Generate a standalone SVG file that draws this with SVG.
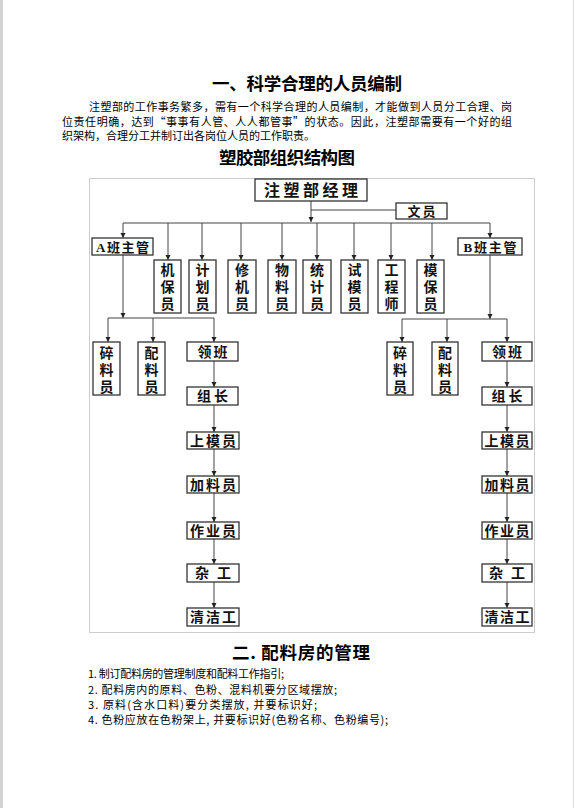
<svg xmlns="http://www.w3.org/2000/svg" width="575" height="808" viewBox="0 0 575 808">
<style>
.t{font-family:"Noto Sans CJK SC","Noto Sans",sans-serif;fill:#000}
.h{font-size:17.5px;font-weight:700}
.p{font-size:11px}
.c{font-family:"Liberation Serif","Noto Sans CJK SC",serif;font-weight:700;fill:#111;text-anchor:middle}
.b{fill:#fff;stroke:#333;stroke-width:1.3}
.ln{stroke:#444;stroke-width:1;fill:none}
</style>
<defs>
<marker id="ah" markerUnits="userSpaceOnUse" markerWidth="6" markerHeight="6" refX="5" refY="3" orient="auto">
<path d="M0,0.5 L5,3 L0,5.5 z" fill="#222"/>
</marker>
</defs>
<rect width="575" height="808" fill="#fff"/>
<rect x="0" y="0" width="3" height="808" fill="#d4d4d4"/>
<line x1="573.5" y1="0" x2="573.5" y2="808" stroke="#e0e0e0"/>

<text class="t h" x="307" y="89.5" text-anchor="middle" textLength="190">一、科学合理的人员编制</text>
<text class="t p" x="89" y="111" textLength="423">注塑部的工作事务繁多，需有一个科学合理的人员编制，才能做到人员分工合理、岗</text>
<text class="t p" x="62" y="125.5" textLength="450">位责任明确，达到“事事有人管、人人都管事”的状态。因此，注塑部需要有一个好的组</text>
<text class="t p" x="62" y="140">织架构，合理分工并制订出各岗位人员的工作职责。</text>
<text class="t h" x="287" y="164" text-anchor="middle" textLength="136">塑胶部组织结构图</text>

<rect x="89.5" y="178.5" width="445" height="454" fill="none" stroke="#ccc"/>

<g id="connectors">
<line class="ln" x1="311" y1="201" x2="311" y2="222" marker-end="url(#ah)"/>
<line class="ln" x1="311" y1="210" x2="396" y2="210"/>
<line class="ln" x1="123" y1="223" x2="490" y2="223"/>
<line class="ln" x1="123" y1="223" x2="123" y2="238" marker-end="url(#ah)"/>
<line class="ln" x1="168" y1="223" x2="168" y2="260" marker-end="url(#ah)"/>
<line class="ln" x1="202" y1="223" x2="202" y2="260" marker-end="url(#ah)"/>
<line class="ln" x1="241" y1="223" x2="241" y2="260" marker-end="url(#ah)"/>
<line class="ln" x1="282" y1="223" x2="282" y2="260" marker-end="url(#ah)"/>
<line class="ln" x1="317" y1="223" x2="317" y2="260" marker-end="url(#ah)"/>
<line class="ln" x1="354" y1="223" x2="354" y2="260" marker-end="url(#ah)"/>
<line class="ln" x1="391" y1="223" x2="391" y2="260" marker-end="url(#ah)"/>
<line class="ln" x1="432" y1="223" x2="432" y2="260" marker-end="url(#ah)"/>
<line class="ln" x1="490" y1="223" x2="490" y2="238" marker-end="url(#ah)"/>

<line class="ln" x1="123" y1="255" x2="123" y2="318" marker-end="url(#ah)"/>
<line class="ln" x1="108" y1="318" x2="214" y2="318"/>
<line class="ln" x1="108" y1="318" x2="108" y2="342" marker-end="url(#ah)"/>
<line class="ln" x1="153" y1="318" x2="153" y2="342" marker-end="url(#ah)"/>
<line class="ln" x1="214" y1="318" x2="214" y2="342" marker-end="url(#ah)"/>
<line class="ln" x1="214" y1="361" x2="214" y2="387" marker-end="url(#ah)"/>
<line class="ln" x1="214" y1="405" x2="214" y2="432" marker-end="url(#ah)"/>
<line class="ln" x1="214" y1="449" x2="214" y2="476" marker-end="url(#ah)"/>
<line class="ln" x1="214" y1="493" x2="214" y2="522" marker-end="url(#ah)"/>
<line class="ln" x1="214" y1="539" x2="214" y2="564" marker-end="url(#ah)"/>
<line class="ln" x1="214" y1="582" x2="214" y2="608" marker-end="url(#ah)"/>

<line class="ln" x1="490" y1="255" x2="490" y2="319" marker-end="url(#ah)"/>
<line class="ln" x1="402" y1="319" x2="507" y2="319"/>
<line class="ln" x1="402" y1="319" x2="402" y2="342" marker-end="url(#ah)"/>
<line class="ln" x1="447" y1="319" x2="447" y2="342" marker-end="url(#ah)"/>
<line class="ln" x1="507" y1="319" x2="507" y2="342" marker-end="url(#ah)"/>
<line class="ln" x1="507" y1="361" x2="507" y2="387" marker-end="url(#ah)"/>
<line class="ln" x1="507" y1="405" x2="507" y2="432" marker-end="url(#ah)"/>
<line class="ln" x1="507" y1="449" x2="507" y2="476" marker-end="url(#ah)"/>
<line class="ln" x1="507" y1="493" x2="507" y2="522" marker-end="url(#ah)"/>
<line class="ln" x1="507" y1="539" x2="507" y2="564" marker-end="url(#ah)"/>
<line class="ln" x1="507" y1="582" x2="507" y2="608" marker-end="url(#ah)"/>
</g>

<g id="manager"><rect class="b" x="255" y="179" width="112" height="22"/><text class="c" x="311" y="196" font-size="16" textLength="94">注塑部经理</text></g>
<g id="clerk"><rect class="b" x="396" y="203" width="51" height="16"/><text class="c" x="421.5" y="215.5" font-size="13" textLength="28">文员</text></g>
<g id="supA"><rect class="b" x="92" y="238" width="61" height="17"/><text class="c" x="122.5" y="251.5" font-size="13" textLength="53">A班主管</text></g>
<g id="supB"><rect class="b" x="458" y="238" width="64" height="17"/><text class="c" x="490" y="251.5" font-size="13" textLength="53">B班主管</text></g>

<g id="v1"><rect class="b" x="154" y="260" width="27" height="53"/><text class="c" font-size="14" x="167.5" y="275"><tspan x="167.5">机</tspan><tspan x="167.5" dy="17">保</tspan><tspan x="167.5" dy="17">员</tspan></text></g>
<g id="v2"><rect class="b" x="189" y="260" width="27" height="53"/><text class="c" font-size="14" x="202.5" y="275"><tspan x="202.5">计</tspan><tspan x="202.5" dy="17">划</tspan><tspan x="202.5" dy="17">员</tspan></text></g>
<g id="v3"><rect class="b" x="228" y="260" width="28" height="53"/><text class="c" font-size="14" x="242" y="275"><tspan x="242">修</tspan><tspan x="242" dy="17">机</tspan><tspan x="242" dy="17">员</tspan></text></g>
<g id="v4"><rect class="b" x="268" y="260" width="28" height="53"/><text class="c" font-size="14" x="282" y="275"><tspan x="282">物</tspan><tspan x="282" dy="17">料</tspan><tspan x="282" dy="17">员</tspan></text></g>
<g id="v5"><rect class="b" x="303" y="260" width="28" height="53"/><text class="c" font-size="14" x="317" y="275"><tspan x="317">统</tspan><tspan x="317" dy="17">计</tspan><tspan x="317" dy="17">员</tspan></text></g>
<g id="v6"><rect class="b" x="341" y="260" width="27" height="53"/><text class="c" font-size="14" x="354.5" y="275"><tspan x="354.5">试</tspan><tspan x="354.5" dy="17">模</tspan><tspan x="354.5" dy="17">员</tspan></text></g>
<g id="v7"><rect class="b" x="378" y="260" width="27" height="53"/><text class="c" font-size="14" x="391.5" y="275"><tspan x="391.5">工</tspan><tspan x="391.5" dy="17">程</tspan><tspan x="391.5" dy="17">师</tspan></text></g>
<g id="v8"><rect class="b" x="417" y="260" width="27" height="53"/><text class="c" font-size="14" x="430.5" y="275"><tspan x="430.5">模</tspan><tspan x="430.5" dy="17">保</tspan><tspan x="430.5" dy="17">员</tspan></text></g>

<g id="a-sui"><rect class="b" x="93" y="342" width="27" height="53"/><text class="c" font-size="14" x="106.5" y="358"><tspan x="106.5">碎</tspan><tspan x="106.5" dy="17">料</tspan><tspan x="106.5" dy="17">员</tspan></text></g>
<g id="a-pei"><rect class="b" x="138" y="342" width="27" height="53"/><text class="c" font-size="14" x="151.5" y="358"><tspan x="151.5">配</tspan><tspan x="151.5" dy="17">料</tspan><tspan x="151.5" dy="17">员</tspan></text></g>
<g id="a-lingban"><rect class="b" x="187" y="342" width="51" height="19"/><text class="c" font-size="14" x="212.5" y="356.5" textLength="30">领班</text></g>
<g id="a-zuzhang"><rect class="b" x="187" y="387" width="51" height="18"/><text class="c" font-size="14" x="212.5" y="401" textLength="31">组长</text></g>
<g id="a-shangmo"><rect class="b" x="187" y="432" width="52" height="17"/><text class="c" font-size="14" x="213" y="445.5" textLength="46">上模员</text></g>
<g id="a-jialiao"><rect class="b" x="187" y="476" width="52" height="17"/><text class="c" font-size="14" x="213" y="489.5" textLength="46">加料员</text></g>
<g id="a-zuoye"><rect class="b" x="187" y="522" width="52" height="17"/><text class="c" font-size="14" x="213" y="535.5" textLength="46">作业员</text></g>
<g id="a-zagong"><rect class="b" x="187" y="564" width="52" height="18"/><text class="c" font-size="14" x="213" y="578" textLength="36">杂工</text></g>
<g id="a-qingjie"><rect class="b" x="187" y="608" width="52" height="18"/><text class="c" font-size="14" x="213" y="622" textLength="46">清洁工</text></g>

<g id="b-sui"><rect class="b" x="387" y="342" width="26" height="53"/><text class="c" font-size="14" x="400" y="358"><tspan x="400">碎</tspan><tspan x="400" dy="17">料</tspan><tspan x="400" dy="17">员</tspan></text></g>
<g id="b-pei"><rect class="b" x="432" y="342" width="26" height="53"/><text class="c" font-size="14" x="445" y="358"><tspan x="445">配</tspan><tspan x="445" dy="17">料</tspan><tspan x="445" dy="17">员</tspan></text></g>
<g id="b-lingban"><rect class="b" x="482" y="342" width="50" height="19"/><text class="c" font-size="14" x="507" y="356.5" textLength="30">领班</text></g>
<g id="b-zuzhang"><rect class="b" x="482" y="387" width="50" height="18"/><text class="c" font-size="14" x="507" y="401" textLength="31">组长</text></g>
<g id="b-shangmo"><rect class="b" x="482" y="432" width="50" height="17"/><text class="c" font-size="14" x="507" y="445.5" textLength="45">上模员</text></g>
<g id="b-jialiao"><rect class="b" x="482" y="476" width="50" height="17"/><text class="c" font-size="14" x="507" y="489.5" textLength="45">加料员</text></g>
<g id="b-zuoye"><rect class="b" x="482" y="522" width="50" height="17"/><text class="c" font-size="14" x="507" y="535.5" textLength="45">作业员</text></g>
<g id="b-zagong"><rect class="b" x="482" y="564" width="50" height="18"/><text class="c" font-size="14" x="507" y="578" textLength="36">杂工</text></g>
<g id="b-qingjie"><rect class="b" x="482" y="608" width="50" height="18"/><text class="c" font-size="14" x="507" y="622" textLength="45">清洁工</text></g>

<text class="t h" x="301" y="659" text-anchor="middle" textLength="138">二. 配料房的管理</text>
<text class="t p" x="88" y="678" textLength="196">1. 制订配料房的管理制度和配料工作指引;</text>
<text class="t p" x="88" y="693.5" textLength="249">2. 配料房内的原料、色粉、混料机要分区域摆放;</text>
<text class="t p" x="88" y="709" textLength="229">3. 原料(含水口料)要分类摆放, 并要标识好;</text>
<text class="t p" x="88" y="724" textLength="300">4. 色粉应放在色粉架上, 并要标识好(色粉名称、色粉编号);</text>
</svg>
